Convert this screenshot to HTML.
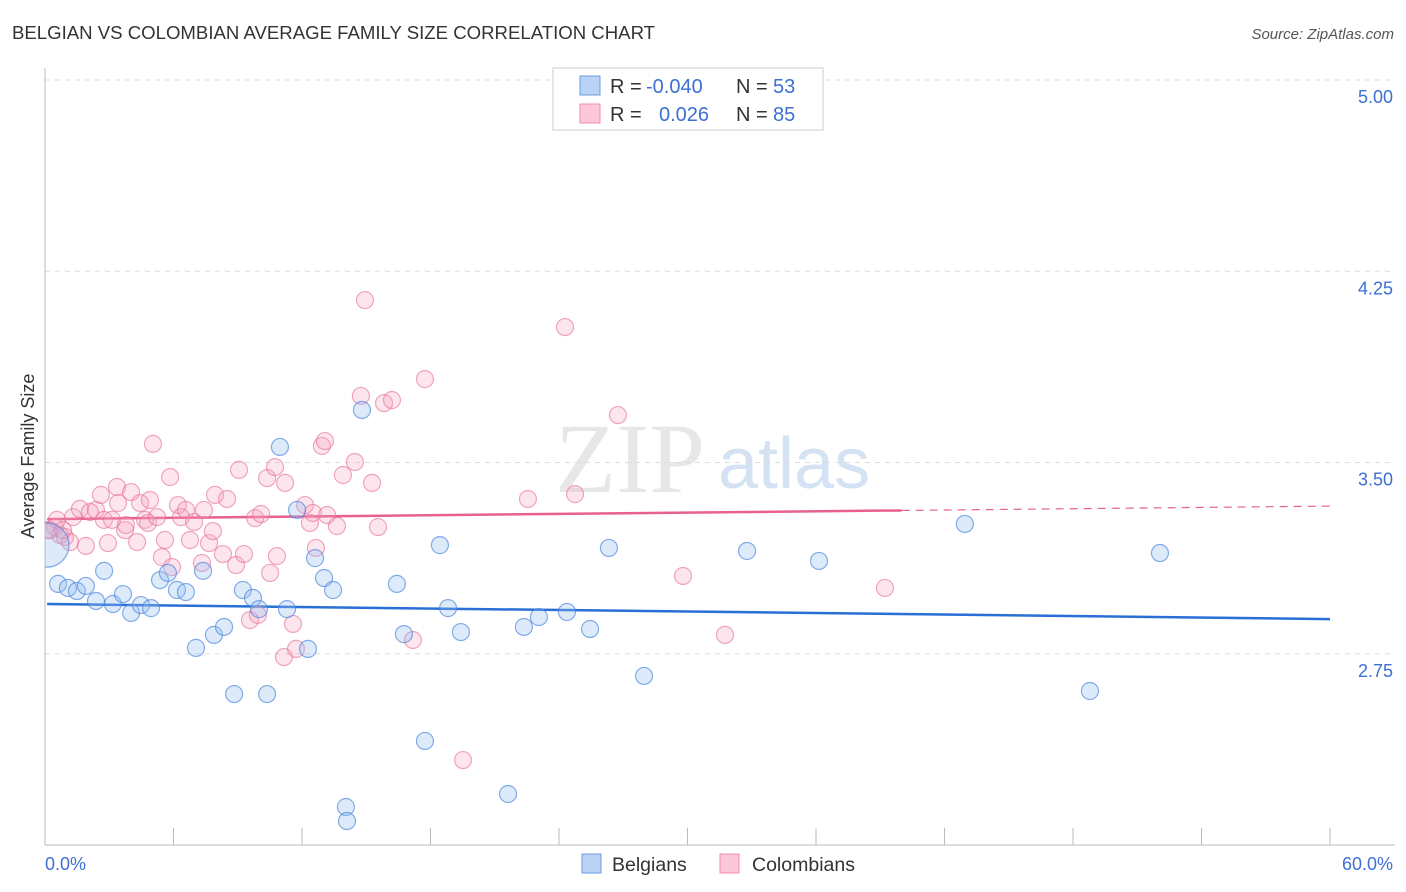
<!DOCTYPE html>
<html><head><meta charset="utf-8"><style>
body{margin:0;background:#fff;font-family:"Liberation Sans",sans-serif;}
svg{display:block}
</style></head><body>
<svg width="1406" height="892" viewBox="0 0 1406 892">
<defs><clipPath id="plotclip"><rect x="45" y="60" width="1360" height="785"/></clipPath></defs>
<text x="12" y="39" font-size="18.6" fill="#333">BELGIAN VS COLOMBIAN AVERAGE FAMILY SIZE CORRELATION CHART</text>
<text x="1394" y="39" font-size="15" fill="#555" font-style="italic" text-anchor="end">Source: ZipAtlas.com</text>
<g>
<text x="555" y="492" font-size="100" fill="#d8d8d8" font-family="Liberation Serif,serif" opacity="0.6">ZIP</text>
<text x="718" y="488" font-size="72" fill="#b8d0ee" opacity="0.6">atlas</text>
</g>
<g id="grid"></g>
<g id="axes"></g>
<g id="trends" clip-path="url(#plotclip)"></g>
<g id="pts" clip-path="url(#plotclip)"></g>
<text transform="translate(34,456) rotate(-90)" font-size="18" fill="#333" text-anchor="middle">Average Family Size</text>
<text x="45" y="870" font-size="18" fill="#3d6fd4">0.0%</text>
<text x="1393" y="870" font-size="18" fill="#3d6fd4" text-anchor="end">60.0%</text>
<g>
<rect x="553" y="68" width="270" height="62" fill="#fff" stroke="#ccc"/>
<rect x="580" y="76" width="20" height="19" fill="#b9d3f5" stroke="#6a9be0"/>
<rect x="580" y="104" width="20" height="19" fill="#fcc8d8" stroke="#f08cb0"/>
<text y="93" font-size="20" fill="#333"><tspan x="610">R =</tspan><tspan x="646" fill="#3d6fd4">-0.040</tspan><tspan x="736">N =</tspan><tspan x="773" fill="#3d6fd4">53</tspan></text>
<text y="121" font-size="20" fill="#333"><tspan x="610">R =</tspan><tspan x="659" fill="#3d6fd4">0.026</tspan><tspan x="736">N =</tspan><tspan x="773" fill="#3d6fd4">85</tspan></text>
</g>
<g>
<rect x="582" y="854" width="19" height="19" fill="#b9d3f5" stroke="#6a9be0"/>
<text x="612" y="871" font-size="19.5" fill="#333">Belgians</text>
<rect x="720" y="854" width="19" height="19" fill="#fcc8d8" stroke="#f08cb0"/>
<text x="752" y="871" font-size="19.5" fill="#333">Colombians</text>
</g>
</svg>
<script>
const yTicks=[5.00,4.25,3.50,2.75];
const xTicks=[0,6,12,18,24,30,36,42,48,54,60];
const belgX=[0.09,0.61,1.07,1.49,1.91,2.38,2.76,3.17,3.64,4.02,4.48,4.95,5.37,5.74,6.16,6.58,7.05,7.38,7.89,8.36,8.83,9.24,9.71,9.99,10.37,10.97,11.30,11.77,12.28,12.61,13.03,13.45,14.05,14.10,14.80,16.43,16.76,17.74,18.44,18.82,19.42,21.62,22.36,23.06,24.37,25.45,26.33,27.97,32.78,36.14,42.95,48.79,52.06];
const belgY=[3.176,3.024,3.008,2.996,3.016,2.957,3.075,2.945,2.984,2.910,2.941,2.929,3.039,3.067,3.000,2.992,2.773,3.075,2.824,2.855,2.592,3.000,2.969,2.925,2.592,3.561,2.925,3.314,2.769,3.125,3.047,3.000,2.149,2.094,3.706,3.024,2.827,2.408,3.176,2.929,2.835,2.200,2.855,2.894,2.914,2.847,3.165,2.663,3.153,3.114,3.259,2.604,3.145];
const colX=[0.23,0.47,0.70,0.93,1.17,1.31,1.63,1.91,2.10,2.38,2.61,2.75,3.13,3.36,3.41,3.74,3.78,4.02,4.30,4.44,4.67,4.81,5.04,5.23,5.46,5.60,5.84,5.93,6.21,6.35,6.58,6.77,6.96,7.33,7.42,7.66,7.84,7.94,8.31,8.50,8.92,9.06,9.29,9.57,9.81,9.94,10.09,10.37,10.51,10.74,10.83,11.21,11.16,11.58,11.72,12.14,12.37,12.51,12.65,12.93,13.07,13.17,13.63,13.91,14.47,14.75,14.94,15.55,15.27,15.83,16.20,17.18,17.74,19.52,22.55,24.28,24.75,26.75,29.79,31.75,39.22,0.14,0.56,0.84,2.94,4.90];
const colY=[3.235,3.247,3.216,3.208,3.188,3.286,3.318,3.173,3.306,3.314,3.373,3.275,3.275,3.404,3.341,3.235,3.255,3.384,3.188,3.341,3.275,3.263,3.573,3.286,3.129,3.196,3.443,3.090,3.333,3.286,3.314,3.196,3.267,3.106,3.314,3.184,3.231,3.373,3.141,3.357,3.098,3.471,3.141,2.882,3.282,2.902,3.298,3.439,3.067,3.482,3.133,3.420,2.737,2.867,2.769,3.333,3.263,3.302,3.165,3.565,3.584,3.294,3.251,3.451,3.502,3.761,4.137,3.247,3.420,3.733,3.745,2.804,3.827,2.333,3.357,4.031,3.376,3.686,3.055,2.824,3.008,3.235,3.275,3.235,3.184,3.353];
const belgTrend=[2.945,2.886];
const colTrend=[3.278,3.329];
const NS='http://www.w3.org/2000/svg';
const X=v=>45+v/60*1285;
const Y=v=>80+(5-v)/0.75*191.25;
function mk(tag,attrs,parent){const e=document.createElementNS(NS,tag);for(const k in attrs)e.setAttribute(k,attrs[k]);document.getElementById(parent).appendChild(e);return e;}
yTicks.forEach(t=>{
 const l=mk('line',{x1:45,x2:1395,y1:Y(t),y2:Y(t),stroke:'#ddd','stroke-dasharray':'5,5'},'grid');
 
 
 const tx=mk('text',{x:1393,y:Y(t)+23,'font-size':18,fill:'#3d6fd4','text-anchor':'end'},'grid');
 tx.textContent=t.toFixed(2);
 
 
});
const ya=mk('line',{x1:45,x2:45,y1:68,y2:845,stroke:'#bbb'},'axes');


const xa=mk('line',{x1:45,x2:1395,y1:845,y2:845,stroke:'#bbb'},'axes');


xTicks.forEach(t=>{
 const l=mk('line',{x1:X(t),x2:X(t),y1:828,y2:845,stroke:'#bbb'},'axes');
 
 
});
const bl=mk('line',{x1:X(0.1),x2:X(60),y1:Y(belgTrend[0]),y2:Y(belgTrend[1]),stroke:'#2a6fd6','stroke-width':2.5},'trends');


const cx1=40;
const cyMid=colTrend[0]+(colTrend[1]-colTrend[0])*(cx1/60);
const cl=mk('line',{x1:X(0.1),x2:X(cx1),y1:Y(colTrend[0]),y2:Y(cyMid),stroke:'#e8608e','stroke-width':2.5},'trends');


const cd=mk('line',{x1:X(cx1),x2:X(60),y1:Y(cyMid),y2:Y(colTrend[1]),stroke:'#e8608e','stroke-width':1.2,'stroke-dasharray':'8,6'},'trends');


colX.forEach((v,i)=>{
 const c=mk('circle',{cx:X(v),cy:Y(colY[i]),r:8.5,fill:'rgba(246,160,190,0.28)',stroke:'rgba(232,110,150,0.6)','stroke-width':1.2},'pts');
 
 
});
belgX.forEach((v,i)=>{
 const c=mk('circle',{cx:X(v),cy:Y(belgY[i]),r:i===0?22:8.5,fill:'rgba(150,190,240,0.33)',stroke:'rgba(70,130,220,0.65)','stroke-width':1.2},'pts');
 
 
});
</script>
</body></html>
